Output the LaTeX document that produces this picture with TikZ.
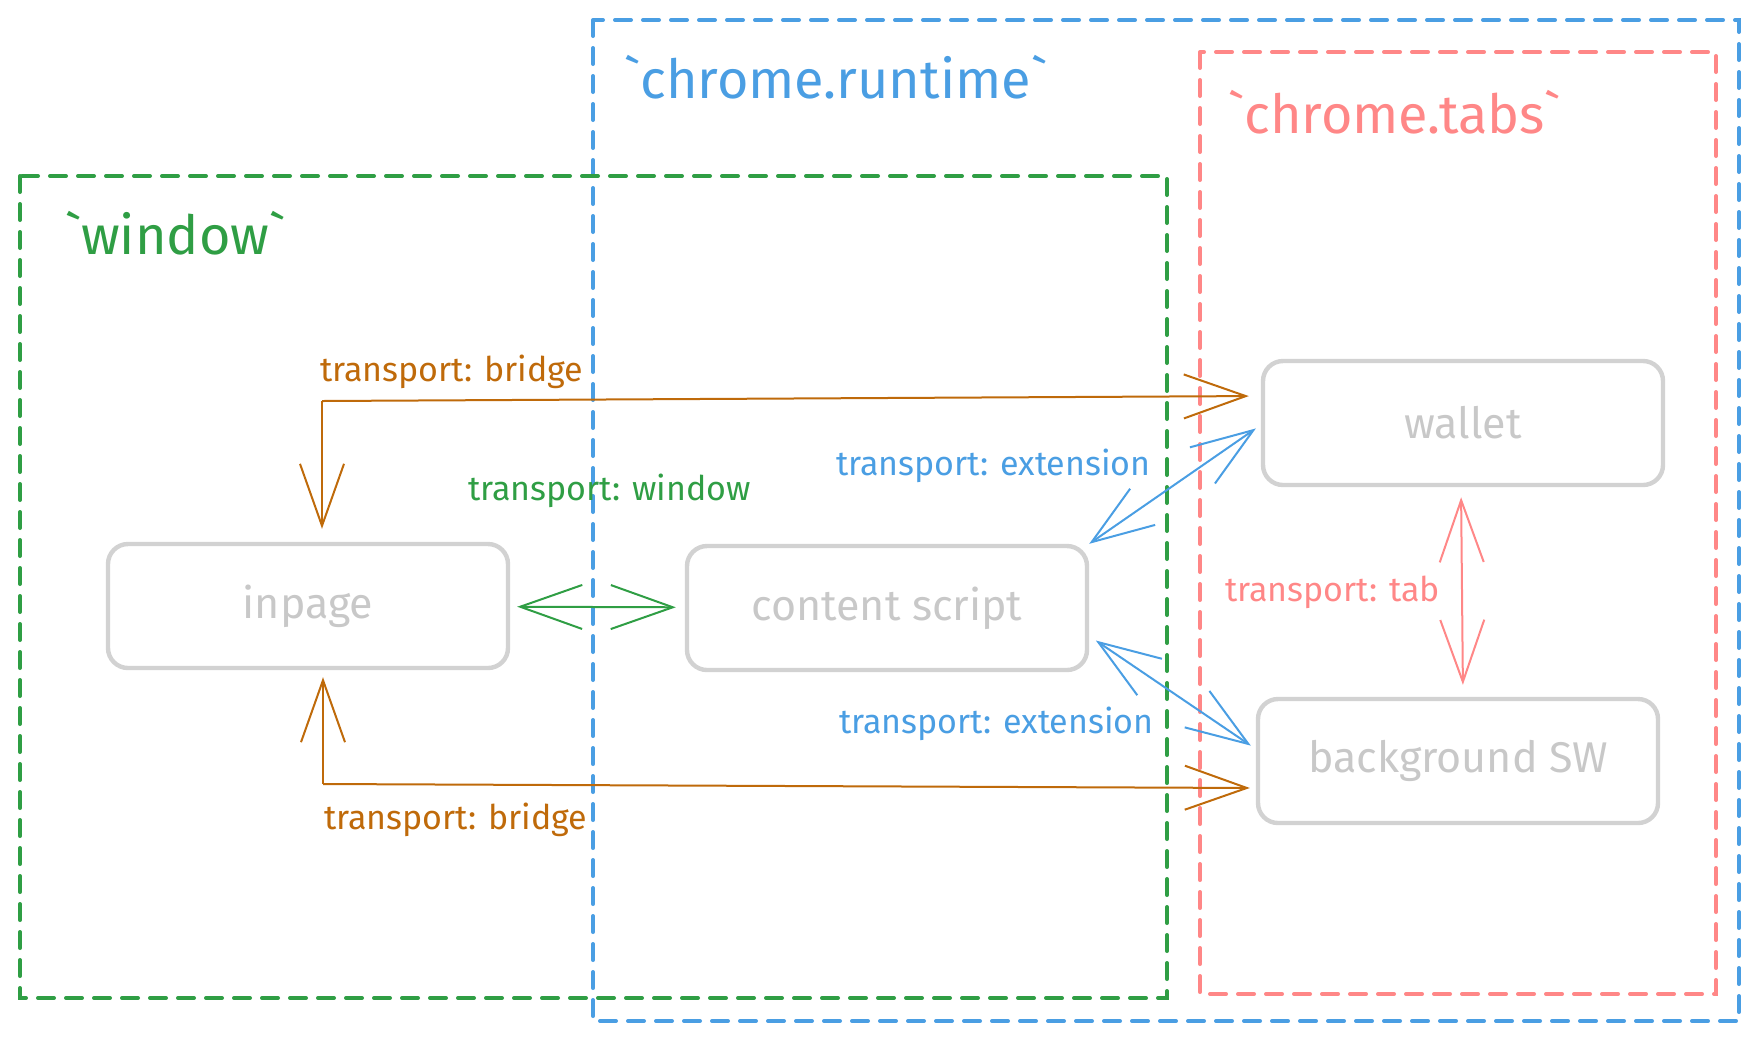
\documentclass[tikz,border=0pt]{standalone}
\usepackage{fontspec}
\setmainfont{Fira Sans}
\usetikzlibrary{arrows.meta}
\definecolor{wingreen}{HTML}{2F9E44}
\definecolor{runblue}{HTML}{4A9EE3}
\definecolor{tabred}{HTML}{FF8787}
\definecolor{bridgeorange}{HTML}{BF6A0A}
\definecolor{boxgrey}{HTML}{D2D2D2}
\definecolor{textgrey}{HTML}{C8C8C8}
\newcommand{\tick}{\textasciigrave}
\tikzset{
  area/.style={line width=2pt, dash pattern=on 8pt off 6pt, line cap=round},
  part/.style={draw=boxgrey, line width=2.2pt, rounded corners=10pt,
    minimum width=200pt, minimum height=62pt, text=textgrey, font=\fontsize{21.5}{24}\selectfont},
  areatitle/.style={anchor=west, font=\fontsize{27}{30}\selectfont},
  translabel/.style={anchor=west, font=\fontsize{17}{20}\selectfont},
  link/.style={line width=1pt, {Straight Barb[length=31pt,width=22pt]}-{Straight Barb[length=31pt,width=22pt]}},
  onelink/.style={line width=1pt, -{Straight Barb[length=31pt,width=22pt]}}
}

\begin{document}
\begin{tikzpicture}[x=0.5pt, y=-0.5pt]
    \useasboundingbox (0,0) rectangle (1759,1040);
    % areas
    \draw[area, runblue] (593,20) rectangle (1739,1021);
    \draw[area, wingreen] (20,176) rectangle (1167,998);
    \draw[area, tabred] (1200,52) rectangle (1716,994);
    \node[areatitle, text=wingreen] (wintitle) at (58,233) {\tick window\tick};
    \node[areatitle, text=runblue] (runtitle) at (617,77) {\tick chrome.runtime\tick};
    \node[areatitle, text=tabred] (tabstitle) at (1221,112) {\tick chrome.tabs\tick};
    % parts
    \node[part] (inpage) at (308,606) {inpage};
    \node[part] (content) at (887,608) {content script};
    \node[part] (wallet) at (1463,423) {wallet};
    \node[part] (bgsw) at (1458,761) {background SW};
    % transports
    \coordinate (topbend) at (322,401);
    \coordinate (lowbend) at (323,784);
\begin{scope}[shorten <=0pt]
    \draw[onelink, bridgeorange, shorten >=6pt] (topbend) -- ([yshift=13.5pt]wallet.west);
    \draw[onelink, bridgeorange, shorten >=6.5pt] (topbend) -- (topbend |- inpage.north);
    \draw[onelink, bridgeorange, shorten >=3pt] (lowbend) -- ([yshift=-13.5pt]bgsw.west);
    \draw[onelink, bridgeorange, shorten >=3.5pt] (lowbend) -- (lowbend |- inpage.south);
    \draw[link, wingreen, shorten <=3.5pt, shorten >=4.5pt] (inpage) -- (content);
    \draw[link, runblue, shorten <=0pt, shorten >=3pt] (content.north east) -- ([yshift=-1pt]wallet.west);
    \draw[link, runblue, shorten <=4pt, shorten >=3pt] ([yshift=-14pt]content.east) -- ([yshift=6pt]bgsw.west);
    \draw[link, tabred, shorten <=5pt, shorten >=6pt] ([xshift=-1pt]wallet.south) -- ([xshift=2.5pt]bgsw.north);
\end{scope}
    \node[translabel, text=bridgeorange] (bridgetop) at (313,372) {transport: bridge};
    \node[translabel, text=bridgeorange] (bridgelow) at (317,820) {transport: bridge};
    \node[translabel, text=wingreen] (winlabel) at (461,491) {transport: window};
    \node[translabel, text=runblue] (exttop) at (829,466) {transport: extension};
    \node[translabel, text=runblue] (extlow) at (832,724) {transport: extension};
    \node[translabel, text=tabred] (tablabel) at (1218,592) {transport: tab};
\end{tikzpicture}
\end{document}
